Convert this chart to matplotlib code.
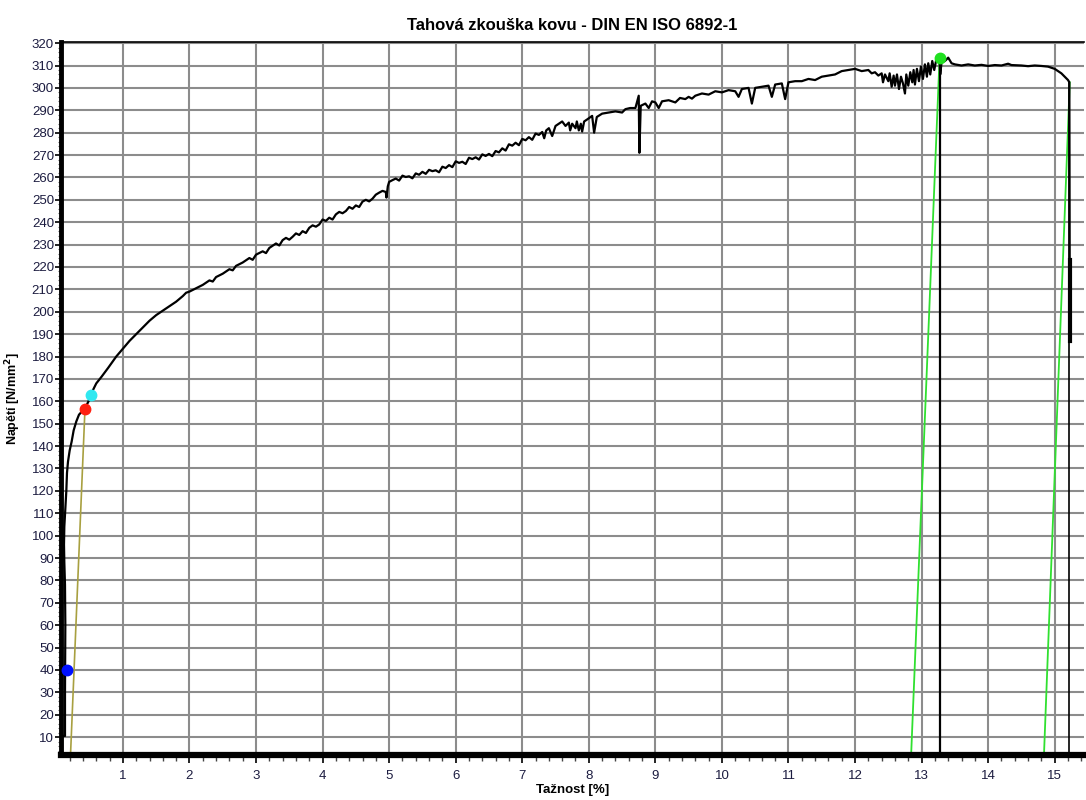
import matplotlib
matplotlib.use("Agg")
import matplotlib.pyplot as plt
from matplotlib.ticker import MultipleLocator

plt.rcParams['font.family'] = ['Liberation Sans', 'DejaVu Sans']

# Tensile curve: strain [%] and stress [N/mm2]
strain = [
    0.07, 0.13, 0.13, 0.135, 0.13, 0.12, 0.115, 0.12, 0.135, 0.15, 0.16, 0.175, 0.2, 0.23, 0.26,
    0.3, 0.34, 0.4, 0.45, 0.5, 0.55, 0.6, 0.68, 0.78, 0.9,
    1.0, 1.1, 1.2, 1.3, 1.4, 1.5, 1.6, 1.7, 1.8, 1.9, 1.95, 2.0, 2.1, 2.2, 2.3, 2.35, 2.4,
    2.5, 2.6, 2.65, 2.7, 2.8, 2.9, 2.95, 3.0, 3.1, 3.15, 3.2,
    3.25, 3.3, 3.35, 3.4, 3.45, 3.5, 3.55, 3.6, 3.65, 3.7, 3.75, 3.8, 3.85, 3.9, 3.95, 4.0,
    4.05, 4.1, 4.15, 4.2, 4.25, 4.3, 4.35, 4.4, 4.45, 4.5, 4.55, 4.6, 4.65, 4.7, 4.75, 4.8,
    4.85, 4.9, 4.95, 4.96, 4.98, 5.0,
    5.05, 5.1, 5.15, 5.2, 5.25, 5.3, 5.35, 5.4, 5.45, 5.5, 5.55, 5.6, 5.65, 5.7, 5.75, 5.8,
    5.85, 5.9, 5.95, 6.0, 6.05, 6.1, 6.15, 6.2, 6.25, 6.3, 6.35, 6.4, 6.45, 6.5, 6.55, 6.6,
    6.65, 6.7, 6.75, 6.8, 6.85, 6.9, 6.95, 7.0, 7.05, 7.1, 7.15, 7.2, 7.25, 7.3,
    7.33, 7.36, 7.4, 7.45, 7.5,
    7.55, 7.6, 7.65, 7.7, 7.72, 7.75, 7.8, 7.82, 7.85, 7.88, 7.9, 7.93, 7.98, 8.05, 8.08, 8.12,
    8.2, 8.3, 8.4, 8.5, 8.55, 8.62, 8.7, 8.75, 8.76, 8.78, 8.85, 8.9, 8.95, 9.0, 9.05, 9.1,
    9.2, 9.3, 9.37,
    9.45, 9.5, 9.55, 9.6, 9.7, 9.8, 9.9, 10.0, 10.1, 10.2, 10.25, 10.3, 10.4, 10.45, 10.5,
    10.6, 10.7, 10.75, 10.8, 10.9, 10.95, 11.0, 11.1, 11.2, 11.3, 11.4, 11.5, 11.6, 11.7,
    11.8, 11.9, 12.0, 12.1,
    12.2, 12.25, 12.3, 12.35, 12.4, 12.42, 12.45, 12.5, 12.52, 12.55, 12.58, 12.6, 12.63, 12.66,
    12.69, 12.72, 12.75, 12.77, 12.8, 12.83, 12.86, 12.88, 12.9, 12.93, 12.96, 12.99, 13.02,
    13.05, 13.08, 13.1, 13.13, 13.16, 13.19, 13.22, 13.25, 13.27, 13.28, 13.3, 13.35, 13.4,
    13.45, 13.5, 13.6,
    13.7, 13.8, 13.9, 14.0, 14.1, 14.2, 14.3, 14.35, 14.5, 14.6, 14.7, 14.8, 14.9, 14.95, 15.0,
    15.05, 15.1, 15.15, 15.2, 15.22, 15.225, 15.225,
]
stress = [
    10.5, 10.5, 30, 60, 78, 88, 96, 104, 112, 120, 128, 133, 138, 142, 147,
    151, 154, 156, 158, 161, 165, 168, 171, 175, 180,
    183.5, 187, 190, 193, 196, 198.5, 200.5, 202.5, 204.5, 207, 208.5, 209, 210.5, 212, 214, 213.5, 215.5,
    217, 219, 218.5, 220.5, 222, 224, 223.2, 225.5, 227, 226.2, 228.5,
    229.5, 230.5, 229.6, 232, 233, 232.2, 233.5, 235, 234.3, 236, 235.2, 237.5, 238.6, 238, 239, 241.2,
    240.6, 242, 241.2, 243.5, 244.6, 244, 245, 246.8, 246, 247.5, 246.8, 249.2, 250, 249.3, 250.5, 252.3,
    253.2, 254, 253.5, 251, 256, 258,
    258.8, 259.5, 258.6, 260.8, 260.2, 260.5, 259.6, 261.8, 261.2, 262.5, 261.6, 263.4, 262.8, 263.2, 262.3, 264.8,
    264.2, 265.5, 264.6, 267.2, 266.5, 267, 266, 268.8, 268.2, 269, 268, 270.3, 269.6, 270.5, 269.5, 271.8,
    271.2, 273, 272, 274.8, 274.2, 275.5, 274.4, 277.2, 276.6, 278, 276.8, 279.6, 279, 280.3,
    277.5, 281, 282, 278.5, 283,
    284, 285, 283, 284.5, 281, 284, 282, 285, 281, 284, 280.5, 285, 286, 287.5, 280, 287,
    288.5, 289, 289.5, 289, 290.5, 291, 291, 296.5, 271, 292, 293, 291, 294, 293.5, 291, 294,
    294.5, 293.5, 295.5,
    295, 296, 295.2, 296.5, 297.5, 297, 298.5, 298, 299, 298.5, 296, 299.5, 300, 293, 300,
    300.5, 301, 296, 301.5, 302, 295, 302.5, 303, 303, 304, 303.5, 305, 305.5, 306,
    307.5, 308, 308.5, 307.5,
    308, 306.5, 307, 305.5, 306.5, 302.5, 306, 303, 306.5, 300.5, 305.5, 301, 306, 299.5,
    305, 302, 297.5, 306, 301, 307, 302.5, 308, 301.5, 308.5, 303, 309.5, 304,
    310.5, 305, 311, 306, 312, 308, 312.5, 313.5, 313.5, 306, 311.5, 312, 313.5,
    311, 310.5, 310,
    310.5, 310, 310.3, 309.8, 310.2, 310, 310.8, 310.2, 310, 309.7, 310, 309.8, 309.5, 309, 308.5,
    307.5, 306.5, 305, 303.5, 302.5, 223, 187,
]

# Evaluation points on the curve
pt_strain = [0.155, 0.43, 0.52, 13.27]
pt_stress = [40, 156.5, 163, 313.5]
pt_colors = ['#0010ff', '#ff2010', '#30e8f0', '#20e020']

# Auxiliary lines (modulus line and offset lines)
elastic_x = [-0.01, 0.094]
elastic_y = [0, 78]
offset_x = [0.21, 0.43]
offset_y = [0, 156.5]
fmax_x = [12.84, 13.27]
fmax_y = [0, 313.5]
break_x = [14.836, 15.226]
break_y = [0, 302.5]

fig = plt.figure(figsize=(10.86, 8.0), dpi=100)
ax = fig.add_axes([61 / 1086, 45 / 800, (1084 - 61) / 1086, (755 - 42) / 800])

ax.set_xlim(0.07, 15.44)
ax.set_ylim(2, 320.5)

ax.xaxis.set_major_locator(MultipleLocator(1))
ax.xaxis.set_minor_locator(MultipleLocator(0.2))
ax.yaxis.set_major_locator(MultipleLocator(10))
ax.yaxis.set_minor_locator(MultipleLocator(2))

ax.grid(True, which='major', color='#8c8c8c', linewidth=1.5, zorder=0)
ax.set_axisbelow(True)

label_color = '#1c1c40'
ax.tick_params(axis='x', which='major', length=6, width=1.2, colors='black',
               labelcolor=label_color, labelsize=9.5, pad=5)
ax.tick_params(axis='x', which='minor', length=4, width=1.0, colors='#444444')
ax.tick_params(axis='y', which='major', length=4, width=1.2, colors='black',
               labelcolor=label_color, labelsize=9.5, pad=1)
ax.tick_params(axis='y', which='minor', length=2, width=0.8, colors='#666666')

ax.spines['right'].set_visible(False)
ax.spines['top'].set_linewidth(1.2)
ax.spines['left'].set_linewidth(3.5)
ax.spines['bottom'].set_linewidth(4.5)

# Auxiliary lines
ax.plot(elastic_x, elastic_y, color='#a8a040', lw=1.2, zorder=2)
ax.plot(offset_x, offset_y, color='#a8a040', lw=1.2, zorder=2)
ax.plot(fmax_x, fmax_y, color='#30e030', lw=1.3, zorder=2)
ax.plot(break_x, break_y, color='#30e030', lw=1.3, zorder=2)

# Vertical markers at maximum force and at fracture
ax.plot([pt_strain[3], pt_strain[3]], [0, pt_stress[3]], color='black', lw=1.6, zorder=3)
ax.plot([strain[-3], strain[-3]], [0, stress[-3]], color='black', lw=1.2, zorder=3)
ax.plot([strain[-2], strain[-1]], [stress[-2], stress[-1]], color='black', lw=3, zorder=3)

# Measured curve
ax.plot(strain, stress, color='black', lw=1.6, zorder=4)

for x, y, c in zip(pt_strain, pt_stress, pt_colors):
    ax.plot([x], [y], 'o', color=c, markersize=7.5, zorder=5, clip_on=False)

ax.set_title('Tahová zkouška kovu - DIN EN ISO 6892-1', fontsize=12, fontweight='bold', pad=9)
ax.set_xlabel('Tažnost [%]', fontsize=9.5, fontweight='bold', labelpad=1)
ax.set_ylabel('Napětí [N/mm$^\\mathbf{2}$]', fontsize=9, fontweight='bold', labelpad=6)

fig.savefig('out.png', dpi=100, facecolor='white')
